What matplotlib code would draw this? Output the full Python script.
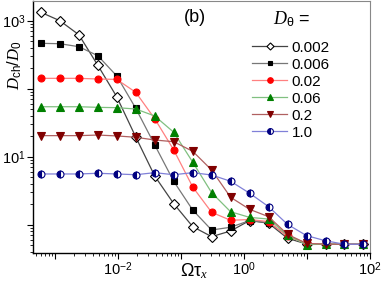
import matplotlib
matplotlib.use("Agg")
import matplotlib.pyplot as plt
from matplotlib.lines import Line2D

plt.rcParams['font.family'] = ['Liberation Sans', 'DejaVu Sans']
plt.rcParams['mathtext.fontset'] = 'custom'
plt.rcParams['mathtext.rm'] = 'Liberation Sans'
plt.rcParams['mathtext.it'] = 'Liberation Serif:italic'
plt.rcParams['mathtext.bf'] = 'Liberation Sans:bold'

# x values (Omega tau_x)
omega_tau = [6.0e-4, 1.2e-3, 2.4e-3, 4.8e-3, 9.6e-3, 0.0192, 0.0384, 0.0768,
             0.154, 0.307, 0.614, 1.23, 2.46, 4.92, 9.83, 19.7, 39.3, 78.6]

# D_ch / D_0 for each D_theta
d_0002 = [1330, 1000, 622, 221, 76, 19.5, 5.2, 2.04, 0.935, 0.667, 0.807,
          1.15, 1.05, 0.63, 0.52, 0.515, 0.515, 0.515]
d_0006 = [465, 459, 415, 306, 154, 51.5, 14.9, 4.35, 1.64, 0.835, 0.916,
          1.15, 1.07, 0.69, 0.53, 0.515, 0.515, 0.515]
d_002 = [142, 142, 142, 139, 137, 88.5, 36.2, 12.6, 3.58, 1.52, 1.16,
         1.19, 1.11, 0.67, 0.53, 0.515, 0.515, 0.515]
d_006 = [54.3, 54.3, 54.3, 53.2, 52.6, 50.3, 39.7, 22.9, 8.3, 2.96, 1.55,
         1.28, 1.21, 0.70, 0.51, 0.515, 0.515, 0.515]
d_02 = [20.4, 20.4, 20.4, 20.8, 20.2, 19.3, 17.6, 16.6, 12.0, 6.37, 2.53,
        1.68, 1.31, 0.72, 0.53, 0.515, 0.515, 0.515]
d_10 = [5.57, 5.57, 5.57, 5.70, 5.57, 5.43, 5.82, 5.43, 5.82, 5.38, 4.35,
        2.90, 1.84, 1.01, 0.69, 0.58, 0.515, 0.515]

labels = ['0.002', '0.006', '0.02', '0.06', '0.2', '1.0']

W, H = 382, 285
fig = plt.figure(figsize=(W/100, H/100), dpi=100)
ax = fig.add_axes([33/W, 1 - 252.7/H, 337/W, 251.7/H])

styles = [
    # data, marker, ms, face, edge, line colour
    (d_0002, 'D', 4.6, 'white', 'black', '#444444'),
    (d_0006, 's', 4.0, 'black', 'black', '#777777'),
    (d_002, 'o', 5.0, 'red', 'red', '#ff8080'),
    (d_006, '^', 5.5, 'green', 'green', '#80c080'),
    (d_02, 'v', 5.5, '#800000', '#800000', '#b06060'),
]

handles = []
for (ys, mk, ms, fc, ec, lc), lab in zip(styles, labels):
    ax.plot(omega_tau, ys, color=lc, lw=0.9, marker=mk, ms=ms,
            markerfacecolor=fc, markeredgecolor=ec, markeredgewidth=0.8)
    handles.append(Line2D([], [], color=lc, lw=0.9, marker=mk, ms=ms - 1,
                          markerfacecolor=fc, markeredgecolor=ec,
                          markeredgewidth=0.8))

# half filled circles for D_theta = 1.0
ax.plot(omega_tau, d_10, color='#8080d8', lw=0.9, marker='o', ms=5.0,
        fillstyle='left', markerfacecolor='#000080',
        markerfacecoloralt='white', markeredgecolor='#000080',
        markeredgewidth=0.8)
handles.append(Line2D([], [], color='#8080d8', lw=0.9, marker='o', ms=4.2,
                      fillstyle='left', markerfacecolor='#000080',
                      markerfacecoloralt='white', markeredgecolor='#000080',
                      markeredgewidth=0.8))

ax.set_xscale('log')
ax.set_yscale('log')
ax.set_xlim(4.5e-4, 100)
ax.set_ylim(0.387, 1950)

ax.set_xticks([1e-3, 1e-2, 1e-1, 1e0, 1e1, 1e2])
ax.set_xticklabels(['', r'$10^{-2}$', '', r'$10^{0}$', '', r'$10^{2}$'])
ax.set_yticks([1e0, 1e1, 1e2, 1e3])
ax.set_yticklabels(['', r'$10^{1}$', '', r'$10^{3}$'])
ax.tick_params(which='major', direction='out', length=4, width=0.8,
               labelsize=10.5, pad=1.5)
ax.tick_params(which='minor', direction='out', length=2.2, width=0.6)

for s in ['top', 'right']:
    ax.spines[s].set_color('#888888')
for s in ['left', 'bottom']:
    ax.spines[s].set_linewidth(1.0)

# axis titles placed where the reference has them
fig.text(194/W, 1 - 276/H, r'$\Omega\mathrm{\tau}_{x}$', fontsize=13,
         ha='center', va='baseline')
fig.text(15/W, 1 - 65/H, r'$D_{\mathrm{ch}}/D_{\mathrm{0}}$', fontsize=12,
         rotation=90, ha='center', va='center')

fig.text(195/W, 1 - 18/H, '(b)', fontsize=13, ha='center', va='center')
fig.text(292/W, 1 - 24/H, r'$D_{\mathrm{\theta}}$ =', fontsize=13,
         ha='center', va='baseline')

leg = ax.legend(handles, labels, loc='upper left',
                bbox_to_anchor=((252 - 33)/337, 1 - (40.5 - 1)/251.7),
                frameon=False, fontsize=11, handlelength=2.3,
                handletextpad=0.3, labelspacing=0.2, borderpad=0,
                borderaxespad=0)

fig.savefig('out.png', dpi=100)
